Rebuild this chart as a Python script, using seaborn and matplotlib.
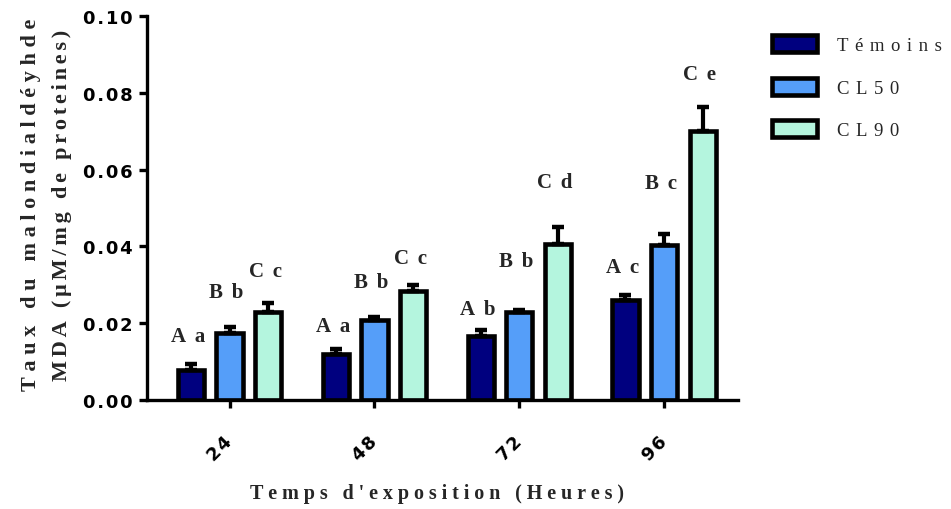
import numpy as np
import pandas as pd
import matplotlib
matplotlib.use("Agg")
import matplotlib.pyplot as plt
from matplotlib.patches import Patch
from matplotlib.ticker import FuncFormatter
import seaborn as sns

# Exposure times (hours) and treatment groups
hours = ["24", "48", "72", "96"]
groups = ["Témoins", "CL50", "CL90"]

# Mean MDA level per group (µM/mg of proteins)
temoins = [0.0079, 0.0120, 0.0167, 0.0261]
cl50 = [0.0174, 0.0208, 0.0228, 0.0404]
cl90 = [0.0230, 0.0284, 0.0405, 0.0700]

# Upper error (SEM)
err_temoins = [0.0015, 0.0013, 0.0015, 0.0012]
err_cl50 = [0.0017, 0.0009, 0.0007, 0.0029]
err_cl90 = [0.0022, 0.0016, 0.0046, 0.0064]

# Statistical letters
letters_temoins = ["A a", "A a", "A b", "A c"]
letters_cl50 = ["B b", "B b", "B b", "B c"]
letters_cl90 = ["C c", "C c", "C d", "C e"]

# Height at which each letter pair is written
letter_y_temoins = [0.0167, 0.0193, 0.0237, 0.0346]
letter_y_cl50 = [0.0281, 0.0307, 0.0362, 0.0565]
letter_y_cl90 = [0.0336, 0.0370, 0.0568, 0.0849]

colors = ["#00007f", "#559ef9", "#b4f5de"]

HAIR = "\u200a"


def tracked(text, n=1):
    """Spread the characters of a string apart with hair spaces."""
    return (HAIR * n).join(text)


df = pd.DataFrame({
    "hours": hours * 3,
    "group": [g for g in groups for _ in hours],
    "value": temoins + cl50 + cl90,
})

sns.set_theme(style="ticks")
plt.rcParams["font.family"] = ["DejaVu Sans"]

fig = plt.figure(figsize=(9.51, 5.10), dpi=100)
ax = fig.add_axes([147 / 951, 109 / 510, (738 - 147) / 951, (401 - 17) / 510])

sns.barplot(data=df, x="hours", y="value", hue="group", order=hours,
            hue_order=groups, palette=colors, saturation=1,
            edgecolor="black", linewidth=3.3, gap=0.32, errorbar=None,
            legend=False, ax=ax)

errs = [err_temoins, err_cl50, err_cl90]
vals = [temoins, cl50, cl90]
letters = [letters_temoins, letters_cl50, letters_cl90]
letter_ys = [letter_y_temoins, letter_y_cl50, letter_y_cl90]
serif = ["Liberation Serif", "DejaVu Serif"]

for cont, v, e, labs, ly in zip(ax.containers, vals, errs, letters, letter_ys):
    xs = [p.get_x() + p.get_width() / 2 for p in cont.patches]
    ax.errorbar(xs, v, yerr=[np.zeros(len(e)), e], fmt="none",
                ecolor="black", elinewidth=3, capsize=4.5, capthick=3.2,
                zorder=1)
    for x, lab, y in zip(xs, labs, ly):
        ax.text(x - 0.02, y, tracked(lab), ha="center", va="center",
                fontsize=15, fontweight="bold", family=serif)

ax.set_xlim(-0.57, 3.51)
ax.set_ylim(0, 0.10)
ax.set_yticks([0.0, 0.02, 0.04, 0.06, 0.08, 0.10])
ax.yaxis.set_major_formatter(FuncFormatter(lambda v, p: tracked(f"{v:.2f}", 1)))
ax.set_xticks(range(len(hours)))
ax.set_xticklabels([tracked(h, 1) for h in hours])

for lab in ax.get_yticklabels():
    lab.set_fontweight("bold")
    lab.set_fontsize(13)
for lab in ax.get_xticklabels():
    lab.set_fontweight("bold")
    lab.set_fontsize(13)
    lab.set_rotation(45)
    lab.set_ha("right")
    lab.set_va("center")
    lab.set_rotation_mode("anchor")

sns.despine(ax=ax)
for s in ["left", "bottom"]:
    ax.spines[s].set_linewidth(2.4)
    ax.spines[s].set_color("black")
ax.tick_params(axis="y", length=6, width=2.4, color="black", pad=4,
               labelcolor="black")
ax.tick_params(axis="x", length=6, width=2.4, color="black", pad=22,
               labelcolor="black")

ax.set_xlabel(tracked("Temps d'exposition (Heures)", 3), fontsize=14.5,
              fontweight="bold", family=serif, va="center")
ax.xaxis.set_label_coords(0.49, -0.242)
ax.set_ylabel(tracked("Taux du malondialdéyhde", 3) + "\n"
              + tracked("MDA (µM/mg de proteines)", 2),
              fontsize=16, fontweight="bold", family=serif, va="center",
              linespacing=1.75)
ax.yaxis.set_label_coords(-0.17, 0.51)

handles = [Patch(facecolor=c, edgecolor="black", linewidth=3.3,
                 label=tracked(g, 4)) for c, g in zip(colors, groups)]
fig.legend(handles=handles, loc="upper left",
           bbox_to_anchor=(772 / 951, 1 - 36 / 510), frameon=False,
           prop={"family": serif, "size": 13.5}, handlelength=2.4,
           handleheight=1.05, handletextpad=1.05, labelspacing=1.25,
           borderpad=0, borderaxespad=0)

fig.savefig("out.png", dpi=100)
